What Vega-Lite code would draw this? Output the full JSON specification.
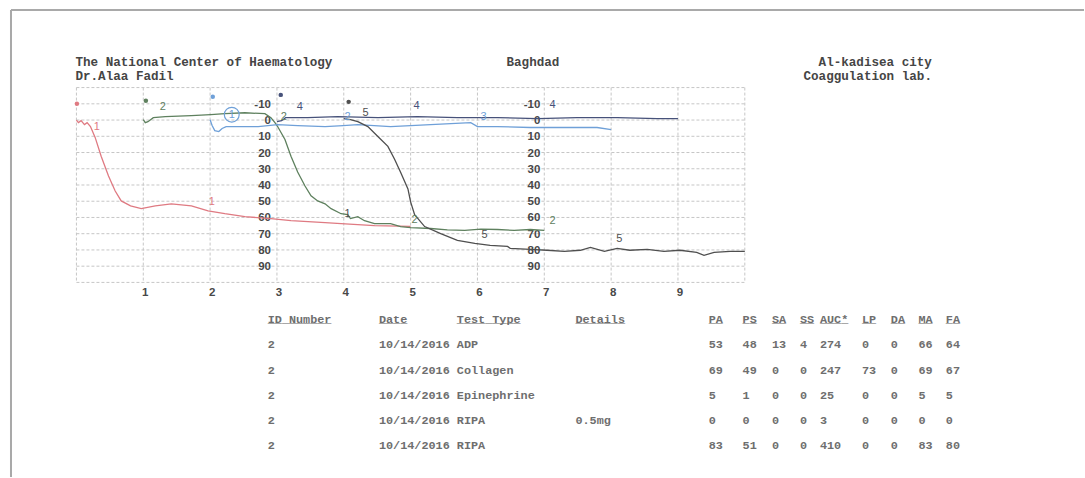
{
  "$schema": "https://vega.github.io/schema/vega-lite/v6.json",
  "width": 1085,
  "height": 478,
  "autosize": {"type": "fit", "contains": "padding"},
  "padding": 0,
  "background": "white",
  "config": {
    "view": {"stroke": null},
    "axis": {"disable": true},
    "legend": {"disable": true},
    "text": {"font": "Liberation Mono", "fontSize": 11.8, "fontWeight": "bold", "align": "left", "baseline": "middle", "fill": "#6e6e6e"}
  },
  "data": {"values": [{}]},
  "datasets": {
    "gridx": [{"minute": 0}, {"minute": 1}, {"minute": 2}, {"minute": 3}, {"minute": 4}, {"minute": 5}, {"minute": 6}, {"minute": 7}, {"minute": 8}, {"minute": 9}, {"minute": 10}],
    "gridy": [{"pct": -20}, {"pct": -10}, {"pct": 0}, {"pct": 10}, {"pct": 20}, {"pct": 30}, {"pct": 40}, {"pct": 50}, {"pct": 60}, {"pct": 70}, {"pct": 80}, {"pct": 90}, {"pct": 100}],
    "curves": [
      {"series": "1", "time": 0, "agg": 0}, {"series": "1", "time": 0.03, "agg": 1.6}, {"series": "1", "time": 0.07, "agg": 0.4}, {"series": "1", "time": 0.12, "agg": 2.8}, {"series": "1", "time": 0.16, "agg": 1.6}, {"series": "1", "time": 0.21, "agg": 4}, {"series": "1", "time": 0.28, "agg": 10.7}, {"series": "1", "time": 0.37, "agg": 22.3}, {"series": "1", "time": 0.48, "agg": 34.5}, {"series": "1", "time": 0.58, "agg": 43.7}, {"series": "1", "time": 0.67, "agg": 49.8}, {"series": "1", "time": 0.81, "agg": 52.8}, {"series": "1", "time": 0.97, "agg": 54.6}, {"series": "1", "time": 1.18, "agg": 52.8}, {"series": "1", "time": 1.42, "agg": 51.6}, {"series": "1", "time": 1.72, "agg": 52.8}, {"series": "1", "time": 1.97, "agg": 55.9}, {"series": "1", "time": 2.22, "agg": 57.7}, {"series": "1", "time": 2.52, "agg": 59.5}, {"series": "1", "time": 2.91, "agg": 60.7}, {"series": "1", "time": 3.21, "agg": 61.9}, {"series": "1", "time": 3.72, "agg": 63.2}, {"series": "1", "time": 3.96, "agg": 63.8}, {"series": "1", "time": 4.46, "agg": 65}, {"series": "1", "time": 5.0, "agg": 65.5},
      {"series": "2", "time": 1.0, "agg": -0.2}, {"series": "2", "time": 1.03, "agg": 1.6}, {"series": "2", "time": 1.07, "agg": 1}, {"series": "2", "time": 1.15, "agg": -1.5}, {"series": "2", "time": 1.33, "agg": -2.1}, {"series": "2", "time": 1.72, "agg": -2.7}, {"series": "2", "time": 2.01, "agg": -3.3}, {"series": "2", "time": 2.22, "agg": -3.9}, {"series": "2", "time": 2.52, "agg": -4.5}, {"series": "2", "time": 2.82, "agg": -3.9}, {"series": "2", "time": 2.91, "agg": -1.5}, {"series": "2", "time": 2.97, "agg": 1.6}, {"series": "2", "time": 3.01, "agg": 4}, {"series": "2", "time": 3.12, "agg": 12}, {"series": "2", "time": 3.21, "agg": 22.3}, {"series": "2", "time": 3.31, "agg": 32}, {"series": "2", "time": 3.42, "agg": 40.6}, {"series": "2", "time": 3.51, "agg": 46.7}, {"series": "2", "time": 3.61, "agg": 49.8}, {"series": "2", "time": 3.72, "agg": 51.6}, {"series": "2", "time": 3.81, "agg": 54.6}, {"series": "2", "time": 3.96, "agg": 57.7}, {"series": "2", "time": 4.06, "agg": 58.3}, {"series": "2", "time": 4.1, "agg": 60.7}, {"series": "2", "time": 4.21, "agg": 59.5}, {"series": "2", "time": 4.31, "agg": 62}, {"series": "2", "time": 4.46, "agg": 63.8}, {"series": "2", "time": 4.7, "agg": 63.8}, {"series": "2", "time": 4.85, "agg": 65.6}, {"series": "2", "time": 5.0, "agg": 66.2}, {"series": "2", "time": 5.3, "agg": 66.8}, {"series": "2", "time": 5.55, "agg": 67.6}, {"series": "2", "time": 5.81, "agg": 68}, {"series": "2", "time": 6.05, "agg": 67.2}, {"series": "2", "time": 6.3, "agg": 67.4}, {"series": "2", "time": 6.55, "agg": 68}, {"series": "2", "time": 6.79, "agg": 67.4}, {"series": "2", "time": 7.0, "agg": 68},
      {"series": "3", "time": 2.0, "agg": -0.2}, {"series": "3", "time": 2.03, "agg": 3.4}, {"series": "3", "time": 2.07, "agg": 6.5}, {"series": "3", "time": 2.13, "agg": 7.1}, {"series": "3", "time": 2.18, "agg": 5.2}, {"series": "3", "time": 2.24, "agg": 4}, {"series": "3", "time": 2.49, "agg": 4}, {"series": "3", "time": 2.72, "agg": 4}, {"series": "3", "time": 3.01, "agg": 2.8}, {"series": "3", "time": 3.31, "agg": 3.4}, {"series": "3", "time": 3.72, "agg": 4}, {"series": "3", "time": 3.99, "agg": 3.4}, {"series": "3", "time": 4.21, "agg": 2.8}, {"series": "3", "time": 4.7, "agg": 4}, {"series": "3", "time": 5.3, "agg": 2.8}, {"series": "3", "time": 5.9, "agg": 1.6}, {"series": "3", "time": 6.0, "agg": 4}, {"series": "3", "time": 6.3, "agg": 4}, {"series": "3", "time": 6.79, "agg": 4.6}, {"series": "3", "time": 7.3, "agg": 4.6}, {"series": "3", "time": 7.79, "agg": 4.6}, {"series": "3", "time": 8.0, "agg": 5.9},
      {"series": "4", "time": 3.0, "agg": 1}, {"series": "4", "time": 3.07, "agg": 0.4}, {"series": "4", "time": 3.13, "agg": -1.5}, {"series": "4", "time": 3.46, "agg": -1.5}, {"series": "4", "time": 3.91, "agg": -2.1}, {"series": "4", "time": 4.51, "agg": -1.5}, {"series": "4", "time": 5.1, "agg": -2.1}, {"series": "4", "time": 5.7, "agg": -1.5}, {"series": "4", "time": 6.3, "agg": -1.5}, {"series": "4", "time": 6.9, "agg": -0.9}, {"series": "4", "time": 7.49, "agg": -1.5}, {"series": "4", "time": 8.09, "agg": -1.5}, {"series": "4", "time": 8.69, "agg": -0.9}, {"series": "4", "time": 9.0, "agg": -0.9},
      {"series": "5", "time": 4.0, "agg": -0.9}, {"series": "5", "time": 4.1, "agg": -0.2}, {"series": "5", "time": 4.21, "agg": 1}, {"series": "5", "time": 4.36, "agg": 4}, {"series": "5", "time": 4.51, "agg": 10.1}, {"series": "5", "time": 4.66, "agg": 16.2}, {"series": "5", "time": 4.76, "agg": 24.1}, {"series": "5", "time": 4.85, "agg": 32.1}, {"series": "5", "time": 4.96, "agg": 42.4}, {"series": "5", "time": 5.0, "agg": 50.4}, {"series": "5", "time": 5.06, "agg": 58.3}, {"series": "5", "time": 5.21, "agg": 65.6}, {"series": "5", "time": 5.45, "agg": 69.9}, {"series": "5", "time": 5.7, "agg": 74.1}, {"series": "5", "time": 5.96, "agg": 76}, {"series": "5", "time": 6.19, "agg": 77.2}, {"series": "5", "time": 6.45, "agg": 77.8}, {"series": "5", "time": 6.49, "agg": 79}, {"series": "5", "time": 6.79, "agg": 79.6}, {"series": "5", "time": 7.04, "agg": 80.2}, {"series": "5", "time": 7.3, "agg": 80.9}, {"series": "5", "time": 7.54, "agg": 80.2}, {"series": "5", "time": 7.69, "agg": 78.4}, {"series": "5", "time": 7.9, "agg": 80.9}, {"series": "5", "time": 8.09, "agg": 79}, {"series": "5", "time": 8.28, "agg": 80.2}, {"series": "5", "time": 8.54, "agg": 79.6}, {"series": "5", "time": 8.79, "agg": 80.9}, {"series": "5", "time": 9.03, "agg": 80.2}, {"series": "5", "time": 9.28, "agg": 81.5}, {"series": "5", "time": 9.39, "agg": 83.3}, {"series": "5", "time": 9.54, "agg": 81.5}, {"series": "5", "time": 9.78, "agg": 80.9}, {"series": "5", "time": 10.0, "agg": 80.9}
    ],
    "markers": [
      {"series": "1", "time": 0.007, "agg": -10}, {"series": "2", "time": 1.039, "agg": -11.9}, {"series": "3", "time": 2.04, "agg": -14.3}, {"series": "4", "time": 3.057, "agg": -15.5}, {"series": "5", "time": 4.073, "agg": -11.2}
    ],
    "rings": [{"series": "3", "time": 2.324, "agg": -3.3}],
    "labels": [
      {"series": "1", "time": 0.306, "agg": 4.1, "label": "1"},
      {"series": "1", "time": 2.025, "agg": 50.2, "label": "1"},
      {"series": "2", "time": 1.293, "agg": -8.2, "label": "2"},
      {"series": "3", "time": 2.324, "agg": -3.3, "label": "1"},
      {"series": "2", "time": 3.102, "agg": -2.0, "label": "2"},
      {"series": "4", "time": 3.341, "agg": -8.2, "label": "4"},
      {"series": "4", "time": 5.09, "agg": -8.8, "label": "4"},
      {"series": "4", "time": 7.123, "agg": -9.4, "label": "4"},
      {"series": "3", "time": 4.058, "agg": -2.0, "label": "2"},
      {"series": "5", "time": 4.327, "agg": -4.5, "label": "5"},
      {"series": "3", "time": 6.091, "agg": -2.0, "label": "3"},
      {"series": "5", "time": 4.058, "agg": 57.6, "label": "1"},
      {"series": "2", "time": 5.06, "agg": 61.3, "label": "2"},
      {"series": "5", "time": 6.106, "agg": 71.1, "label": "5"},
      {"series": "2", "time": 7.123, "agg": 61.9, "label": "2"},
      {"series": "5", "time": 8.124, "agg": 73.0, "label": "5"}
    ],
    "table": [
      {"row": 1, "id": 2, "date": "10/14/2016", "type": "ADP", "details": "", "PA": 53, "PS": 48, "SA": 13, "SS": 4, "AUC": 274, "LP": 0, "DA": 0, "MA": 66, "FA": 64},
      {"row": 2, "id": 2, "date": "10/14/2016", "type": "Collagen", "details": "", "PA": 69, "PS": 49, "SA": 0, "SS": 0, "AUC": 247, "LP": 73, "DA": 0, "MA": 69, "FA": 67},
      {"row": 3, "id": 2, "date": "10/14/2016", "type": "Epinephrine", "details": "", "PA": 5, "PS": 1, "SA": 0, "SS": 0, "AUC": 25, "LP": 0, "DA": 0, "MA": 5, "FA": 5},
      {"row": 4, "id": 2, "date": "10/14/2016", "type": "RIPA", "details": "0.5mg", "PA": 0, "PS": 0, "SA": 0, "SS": 0, "AUC": 3, "LP": 0, "DA": 0, "MA": 0, "FA": 0},
      {"row": 5, "id": 2, "date": "10/14/2016", "type": "RIPA", "details": "", "PA": 83, "PS": 51, "SA": 0, "SS": 0, "AUC": 410, "LP": 0, "DA": 0, "MA": 83, "FA": 80}
    ],
    "head": [
      {"id": "ID Number", "date": "Date", "type": "Test Type", "details": "Details", "PA": "PA", "PS": "PS", "SA": "SA", "SS": "SS", "AUC": "AUC*", "LP": "LP", "DA": "DA", "MA": "MA", "FA": "FA"}
    ]
  },
  "layer": [
    {
      "layer": [
        {"mark": {"type": "rule", "stroke": "#a9a9a9", "strokeWidth": 2}, "encoding": {"x": {"datum": -0.979}, "y": {"datum": -67.8}, "y2": {"datum": 219.85}}},
        {"mark": {"type": "rule", "stroke": "#a9a9a9", "strokeWidth": 2}, "encoding": {"y": {"datum": -67.8}, "x": {"datum": -0.979}, "x2": {"datum": 15.075}}},
        {"data": {"name": "gridx"}, "mark": {"type": "rule", "stroke": "#c6c6c6", "strokeWidth": 1, "strokeDash": [3, 2]}, "encoding": {"x": {"field": "minute", "type": "quantitative"}, "y": {"datum": -20}, "y2": {"datum": 100}}},
        {"data": {"name": "gridy"}, "mark": {"type": "rule", "stroke": "#c6c6c6", "strokeWidth": 1, "strokeDash": [3, 2]}, "encoding": {"y": {"field": "pct", "type": "quantitative"}, "x": {"datum": 0}, "x2": {"datum": 10}}},
        {"data": {"name": "gridy"}, "transform": [{"filter": "datum.pct >= -10 && datum.pct <= 90"}], "mark": {"type": "text", "align": "right", "baseline": "middle", "dx": -6, "dy": 1, "font": "Liberation Sans", "fontSize": 11.5, "fontWeight": "bold", "fill": "#484848"}, "encoding": {"x": {"datum": 3}, "y": {"field": "pct", "type": "quantitative"}, "text": {"field": "pct", "type": "nominal"}}},
        {"data": {"name": "gridy"}, "transform": [{"filter": "datum.pct >= -10 && datum.pct <= 90"}], "mark": {"type": "text", "align": "right", "baseline": "middle", "dx": -4, "dy": 1, "font": "Liberation Sans", "fontSize": 11.5, "fontWeight": "bold", "fill": "#484848"}, "encoding": {"x": {"datum": 7}, "y": {"field": "pct", "type": "quantitative"}, "text": {"field": "pct", "type": "nominal"}}},
        {"data": {"name": "gridx"}, "transform": [{"filter": "datum.minute >= 1 && datum.minute <= 9"}], "mark": {"type": "text", "align": "center", "baseline": "middle", "dx": 2, "dy": 1, "font": "Liberation Sans", "fontSize": 11.5, "fontWeight": "bold", "fill": "#484848"}, "encoding": {"x": {"field": "minute", "type": "quantitative"}, "y": {"datum": 106.1}, "text": {"field": "minute", "type": "nominal"}}},
        {"data": {"name": "curves"}, "mark": {"type": "line", "strokeWidth": 1.3, "interpolate": "linear"}, "encoding": {
          "x": {"field": "time", "type": "quantitative", "scale": {"domain": [-1.1435, 15.075], "nice": false, "zero": false}},
          "y": {"field": "agg", "type": "quantitative", "scale": {"domain": [-73.94, 219.85], "reverse": true, "nice": false, "zero": false}},
          "color": {"field": "series", "type": "nominal", "scale": {"domain": ["1", "2", "3", "4", "5"], "range": ["#df7a82", "#5e805e", "#6fa0d8", "#47527a", "#4f4f4f"]}}}},
        {"data": {"name": "markers"}, "mark": {"type": "point", "filled": true, "size": 20, "opacity": 1}, "encoding": {"x": {"field": "time", "type": "quantitative"}, "y": {"field": "agg", "type": "quantitative"}, "color": {"field": "series", "type": "nominal"}}},
        {"data": {"name": "rings"}, "mark": {"type": "point", "filled": false, "size": 220, "strokeWidth": 1.2, "opacity": 1}, "encoding": {"x": {"field": "time", "type": "quantitative"}, "y": {"field": "agg", "type": "quantitative"}, "color": {"field": "series", "type": "nominal"}}},
        {"data": {"name": "labels"}, "mark": {"type": "text", "align": "center", "baseline": "middle", "font": "Liberation Sans", "fontSize": 11, "fontWeight": "normal"}, "encoding": {"x": {"field": "time", "type": "quantitative"}, "y": {"field": "agg", "type": "quantitative"}, "text": {"field": "label", "type": "nominal"}, "color": {"field": "series", "type": "nominal"}}},
        {"mark": {"type": "text", "align": "left", "baseline": "middle", "font": "Liberation Mono", "fontSize": 12.6, "fontWeight": "bold", "fill": "#454545", "dx": -1}, "encoding": {"x": {"datum": 0}, "y": {"datum": -35.8}, "text": {"value": "The National Center of Haematology"}}},
        {"mark": {"type": "text", "align": "left", "baseline": "middle", "font": "Liberation Mono", "fontSize": 12.6, "fontWeight": "bold", "fill": "#454545", "dx": -1}, "encoding": {"x": {"datum": 0}, "y": {"datum": -27.2}, "text": {"value": "Dr.Alaa Fadil"}}},
        {"mark": {"type": "text", "align": "center", "baseline": "middle", "font": "Liberation Mono", "fontSize": 12.6, "fontWeight": "bold", "fill": "#454545"}, "encoding": {"x": {"datum": 6.83}, "y": {"datum": -35.8}, "text": {"value": "Baghdad"}}},
        {"mark": {"type": "text", "align": "right", "baseline": "middle", "font": "Liberation Mono", "fontSize": 12.6, "fontWeight": "bold", "fill": "#454545"}, "encoding": {"x": {"datum": 12.8}, "y": {"datum": -35.8}, "text": {"value": "Al-kadisea city"}}},
        {"mark": {"type": "text", "align": "right", "baseline": "middle", "font": "Liberation Mono", "fontSize": 12.6, "fontWeight": "bold", "fill": "#454545"}, "encoding": {"x": {"datum": 12.8}, "y": {"datum": -27.2}, "text": {"value": "Coaggulation lab."}}}
      ]
    },
    {
      "layer": [
        {"encoding": {"x": {"datum": 2.862}, "text": {"field": "id", "type": "nominal"}}, "layer": [
          {"data": {"name": "table"}, "mark": "text", "encoding": {"y": {"field": "row", "type": "quantitative", "scale": {"domain": [-12.64, 6.253], "reverse": true, "nice": false, "zero": false}}}},
          {"data": {"name": "head"}, "mark": "text", "encoding": {"y": {"datum": 0}}},
          {"data": {"name": "head"}, "mark": "text", "encoding": {"y": {"datum": 0}, "text": {"value": "_________"}}}]},
        {"encoding": {"x": {"datum": 4.526}, "text": {"field": "date", "type": "nominal"}}, "layer": [
          {"data": {"name": "table"}, "mark": "text", "encoding": {"y": {"field": "row", "type": "quantitative"}}},
          {"data": {"name": "head"}, "mark": "text", "encoding": {"y": {"datum": 0}}},
          {"data": {"name": "head"}, "mark": "text", "encoding": {"y": {"datum": 0}, "text": {"value": "____"}}}]},
        {"encoding": {"x": {"datum": 5.692}, "text": {"field": "type", "type": "nominal"}}, "layer": [
          {"data": {"name": "table"}, "mark": "text", "encoding": {"y": {"field": "row", "type": "quantitative"}}},
          {"data": {"name": "head"}, "mark": "text", "encoding": {"y": {"datum": 0}}},
          {"data": {"name": "head"}, "mark": "text", "encoding": {"y": {"datum": 0}, "text": {"value": "_________"}}}]},
        {"encoding": {"x": {"datum": 7.466}, "text": {"field": "details", "type": "nominal"}}, "layer": [
          {"data": {"name": "table"}, "mark": "text", "encoding": {"y": {"field": "row", "type": "quantitative"}}},
          {"data": {"name": "head"}, "mark": "text", "encoding": {"y": {"datum": 0}}},
          {"data": {"name": "head"}, "mark": "text", "encoding": {"y": {"datum": 0}, "text": {"value": "_______"}}}]},
        {"encoding": {"x": {"datum": 9.459}, "text": {"field": "PA", "type": "nominal"}}, "layer": [
          {"data": {"name": "table"}, "mark": "text", "encoding": {"y": {"field": "row", "type": "quantitative"}}},
          {"data": {"name": "head"}, "mark": "text", "encoding": {"y": {"datum": 0}}},
          {"data": {"name": "head"}, "mark": "text", "encoding": {"y": {"datum": 0}, "text": {"value": "__"}}}]},
        {"encoding": {"x": {"datum": 9.967}, "text": {"field": "PS", "type": "nominal"}}, "layer": [
          {"data": {"name": "table"}, "mark": "text", "encoding": {"y": {"field": "row", "type": "quantitative"}}},
          {"data": {"name": "head"}, "mark": "text", "encoding": {"y": {"datum": 0}}},
          {"data": {"name": "head"}, "mark": "text", "encoding": {"y": {"datum": 0}, "text": {"value": "__"}}}]},
        {"encoding": {"x": {"datum": 10.406}, "text": {"field": "SA", "type": "nominal"}}, "layer": [
          {"data": {"name": "table"}, "mark": "text", "encoding": {"y": {"field": "row", "type": "quantitative"}}},
          {"data": {"name": "head"}, "mark": "text", "encoding": {"y": {"datum": 0}}},
          {"data": {"name": "head"}, "mark": "text", "encoding": {"y": {"datum": 0}, "text": {"value": "__"}}}]},
        {"encoding": {"x": {"datum": 10.825}, "text": {"field": "SS", "type": "nominal"}}, "layer": [
          {"data": {"name": "table"}, "mark": "text", "encoding": {"y": {"field": "row", "type": "quantitative"}}},
          {"data": {"name": "head"}, "mark": "text", "encoding": {"y": {"datum": 0}}},
          {"data": {"name": "head"}, "mark": "text", "encoding": {"y": {"datum": 0}, "text": {"value": "__"}}}]},
        {"encoding": {"x": {"datum": 11.124}, "text": {"field": "AUC", "type": "nominal"}}, "layer": [
          {"data": {"name": "table"}, "mark": "text", "encoding": {"y": {"field": "row", "type": "quantitative"}}},
          {"data": {"name": "head"}, "mark": "text", "encoding": {"y": {"datum": 0}}},
          {"data": {"name": "head"}, "mark": "text", "encoding": {"y": {"datum": 0}, "text": {"value": "____"}}}]},
        {"encoding": {"x": {"datum": 11.752}, "text": {"field": "LP", "type": "nominal"}}, "layer": [
          {"data": {"name": "table"}, "mark": "text", "encoding": {"y": {"field": "row", "type": "quantitative"}}},
          {"data": {"name": "head"}, "mark": "text", "encoding": {"y": {"datum": 0}}},
          {"data": {"name": "head"}, "mark": "text", "encoding": {"y": {"datum": 0}, "text": {"value": "__"}}}]},
        {"encoding": {"x": {"datum": 12.185}, "text": {"field": "DA", "type": "nominal"}}, "layer": [
          {"data": {"name": "table"}, "mark": "text", "encoding": {"y": {"field": "row", "type": "quantitative"}}},
          {"data": {"name": "head"}, "mark": "text", "encoding": {"y": {"datum": 0}}},
          {"data": {"name": "head"}, "mark": "text", "encoding": {"y": {"datum": 0}, "text": {"value": "__"}}}]},
        {"encoding": {"x": {"datum": 12.598}, "text": {"field": "MA", "type": "nominal"}}, "layer": [
          {"data": {"name": "table"}, "mark": "text", "encoding": {"y": {"field": "row", "type": "quantitative"}}},
          {"data": {"name": "head"}, "mark": "text", "encoding": {"y": {"datum": 0}}},
          {"data": {"name": "head"}, "mark": "text", "encoding": {"y": {"datum": 0}, "text": {"value": "__"}}}]},
        {"encoding": {"x": {"datum": 13.008}, "text": {"field": "FA", "type": "nominal"}}, "layer": [
          {"data": {"name": "table"}, "mark": "text", "encoding": {"y": {"field": "row", "type": "quantitative"}}},
          {"data": {"name": "head"}, "mark": "text", "encoding": {"y": {"datum": 0}}},
          {"data": {"name": "head"}, "mark": "text", "encoding": {"y": {"datum": 0}, "text": {"value": "__"}}}]}
      ]
    }
  ],
  "resolve": {"scale": {"y": "independent"}}
}
